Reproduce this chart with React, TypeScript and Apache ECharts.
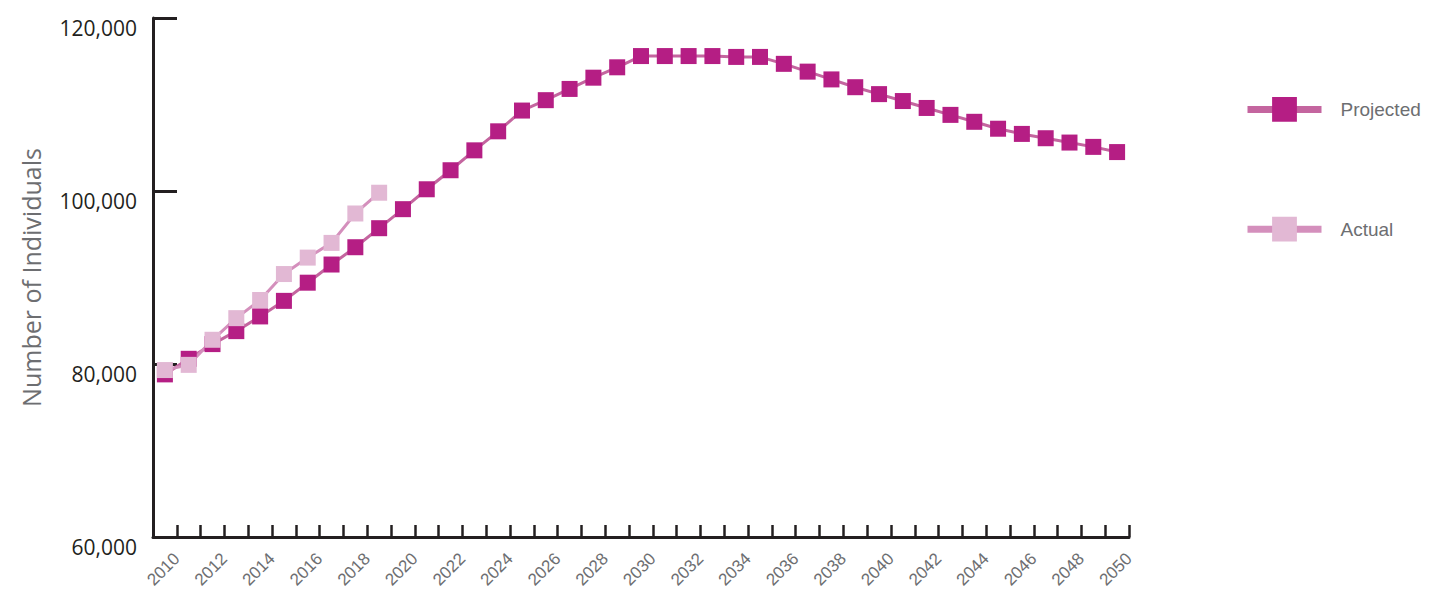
import React, { useEffect, useRef } from "react";
import * as echarts from "echarts";

const years = [
  "2010","2011","2012","2013","2014","2015","2016","2017","2018","2019",
  "2020","2021","2022","2023","2024","2025","2026","2027","2028","2029",
  "2030","2031","2032","2033","2034","2035","2036","2037","2038","2039",
  "2040","2041","2042","2043","2044","2045","2046","2047","2048","2049","2050",
];

const projected = [
  78800, 80600, 82300, 83800, 85500, 87300, 89400, 91500, 93500, 95700,
  97900, 100200, 102400, 104700, 106900, 109300, 110500, 111800, 113100, 114300,
  115600, 115600, 115600, 115600, 115500, 115500, 114700, 113800, 112900, 112000,
  111200, 110400, 109600, 108800, 108000, 107200, 106600, 106100, 105600, 105100, 104500,
];

const actual = [79300, 79900, 82800, 85300, 87400, 90400, 92300, 94000, 97400, 99800];

const xTickLabels = [
  "2010","2012","2014","2016","2018","2020","2022","2024","2026","2028","2030",
  "2032","2034","2036","2038","2040","2042","2044","2046","2048","2050",
];

const yTicks = { min: 60000, max: 120000, interval: 20000 };

export default function App() {
  const ref = useRef<HTMLDivElement>(null);
  useEffect(() => {
    if (!ref.current) return;
    const chart = echarts.init(ref.current, null, { renderer: "svg" });
    const axisColor = "#231f20";
    const grey = "#6d6e71";
    chart.setOption({
      animation: false,
      backgroundColor: "#ffffff",
      grid: { left: 153, right: 308, top: 18, bottom: 54 },
      legend: {
        orient: "vertical",
        left: 1239,
        top: 92,
        itemWidth: 74,
        itemHeight: 31,
        itemGap: 95,
        lineStyle: { width: 7 },
        textStyle: {
          color: grey,
          fontSize: 19,
          fontFamily: "Liberation Sans",
          padding: [0, 0, 0, 14],
        },
        data: ["Projected", "Actual"],
      },
      xAxis: [
        {
          type: "category",
          data: years,
          boundaryGap: true,
          show: false,
        },
        {
          type: "value",
          position: "bottom",
          min: 0,
          max: years.length,
          interval: 1,
          splitLine: { show: false },
          axisLine: { show: true, lineStyle: { color: axisColor, width: 3 } },
          axisTick: { show: true, inside: true, length: 12, lineStyle: { color: axisColor, width: 2.5 } },
          axisLabel: {
            rotate: 45,
            margin: 19,
            color: grey,
            fontSize: 17,
            fontFamily: "Liberation Sans",
            showMinLabel: true,
            showMaxLabel: true,
            formatter: (v: number) => {
              const y = years[v - 1];
              return y && xTickLabels.includes(y) ? y : "";
            },
          },
        },
      ],
      yAxis: {
        type: "value",
        min: yTicks.min,
        max: yTicks.max,
        interval: yTicks.interval,
        name: "Number of Individuals",
        nameLocation: "middle",
        nameGap: 110,
        nameTextStyle: { color: grey, fontSize: 25, fontFamily: "Open Sans" },
        splitLine: { show: false },
        axisLine: { show: true, lineStyle: { color: axisColor, width: 3 } },
        axisTick: { show: true, inside: true, length: 24, lineStyle: { color: axisColor, width: 3 } },
        axisLabel: {
          margin: 16,
          color: axisColor,
          fontSize: 21,
          fontFamily: "Open Sans",
          verticalAlign: "top",
          lineHeight: 20,
          formatter: (v: number) => v.toLocaleString("en-US"),
        },
      },
      series: [
        {
          name: "Projected",
          type: "line",
          xAxisIndex: 0,
          data: projected,
          symbol: "rect",
          symbolSize: 16,
          showAllSymbol: true,
          lineStyle: { color: "#c4659f", width: 3 },
          itemStyle: { color: "#b51e84" },
        },
        {
          name: "Actual",
          type: "line",
          xAxisIndex: 0,
          data: actual,
          symbol: "rect",
          symbolSize: 16,
          showAllSymbol: true,
          lineStyle: { color: "#d48fbc", width: 3 },
          itemStyle: { color: "#e2b8d4" },
        },
      ],
    });
    return () => chart.dispose();
  }, []);
  return (
    <div
      ref={ref}
      style={{ position: "fixed", left: 0, top: 0, width: 1437, height: 591 }}
    />
  );
}
